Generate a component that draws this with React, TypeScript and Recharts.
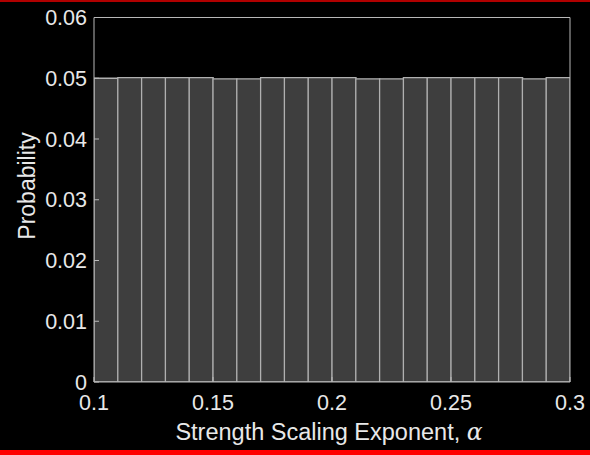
import { Bar, BarChart, Label, XAxis, YAxis } from 'recharts';

// histogram of sampled exponents, bins of width 0.01 between 0.1 and 0.3
const binStarts = [
  0.1, 0.11, 0.12, 0.13, 0.14, 0.15, 0.16, 0.17, 0.18, 0.19,
  0.2, 0.21, 0.22, 0.23, 0.24, 0.25, 0.26, 0.27, 0.28, 0.29
];
const probabilities = [
  0.05, 0.0501, 0.0501, 0.0501, 0.0501, 0.0499, 0.0499, 0.0501, 0.0501, 0.0501,
  0.0501, 0.0499, 0.0499, 0.0501, 0.0501, 0.0501, 0.0501, 0.0501, 0.0499, 0.0501
];
const binWidth = 0.01;
const xTicks = [0.1, 0.15, 0.2, 0.25, 0.3];
const yTicks = [0, 0.01, 0.02, 0.03, 0.04, 0.05, 0.06];

const data = binStarts.map((start, i) => ({
  center: +(start + binWidth / 2).toFixed(4),
  prob: probabilities[i]
}));

const font = '"Liberation Sans", Arial, Helvetica, sans-serif';
const axisColor = '#b8b8b8';
const textColor = '#e8e8e8';
const tickStyle = { fill: textColor, fontSize: 21.5, fontFamily: font };

function XTitle(props: any) {
  const { x, y, width } = props.viewBox;
  return (
    <text x={x + width / 2 - 3} y={y + 58} textAnchor="middle" fill={textColor} fontSize={23.5} fontFamily={font}>
      Strength Scaling Exponent,{' '}
      <tspan fontStyle="italic" fontFamily='"DejaVu Serif", serif'>α</tspan>
    </text>
  );
}

function YTitle() {
  return (
    <text
      x={35}
      y={186}
      transform="rotate(-90 35 186)"
      textAnchor="middle"
      fill={textColor}
      fontSize={23}
      fontFamily={font}
    >
      Probability
    </text>
  );
}

export default function App() {
  return (
    <div style={{ position: 'absolute', left: 0, top: 0, width: 590, height: 455, background: '#000', overflow: 'hidden' }}>
      <div style={{ position: 'absolute', left: 0, top: 0, width: 590, height: 1.5, background: '#b00000' }} />
      <BarChart
        width={590}
        height={450}
        data={data}
        barCategoryGap={0}
        barGap={0}
        margin={{ top: 0, right: 0, bottom: 0, left: 0 }}
      >
        <Bar dataKey="prob" fill="#3e3e3e" stroke="#b0b0b0" strokeWidth={1.3} isAnimationActive={false} />
        <XAxis
          dataKey="center"
          type="number"
          domain={[0.1, 0.3]}
          allowDataOverflow
          ticks={xTicks}
          height={68}
          stroke={axisColor}
          tickSize={-5}
          tickMargin={18}
          tick={tickStyle}
        >
          <Label content={<XTitle />} />
        </XAxis>
        <XAxis
          xAxisId="top"
          orientation="top"
          type="number"
          domain={[0.1, 0.3]}
          allowDataOverflow
          ticks={xTicks}
          height={17.5}
          stroke={axisColor}
          tickSize={-5}
          tick={false}
        />
        <YAxis
          type="number"
          domain={[0, 0.06]}
          allowDataOverflow
          ticks={yTicks}
          width={94}
          stroke={axisColor}
          tickSize={-5}
          tickMargin={12}
          tick={tickStyle}
        >
          <Label content={<YTitle />} />
        </YAxis>
        <YAxis
          yAxisId="right"
          orientation="right"
          type="number"
          domain={[0, 0.06]}
          allowDataOverflow
          ticks={yTicks}
          width={20}
          stroke={axisColor}
          tickSize={-5}
          tick={false}
        />
      </BarChart>
      <div style={{ position: 'absolute', left: 0, top: 450, width: 590, height: 5, background: '#ff0000' }} />
    </div>
  );
}
